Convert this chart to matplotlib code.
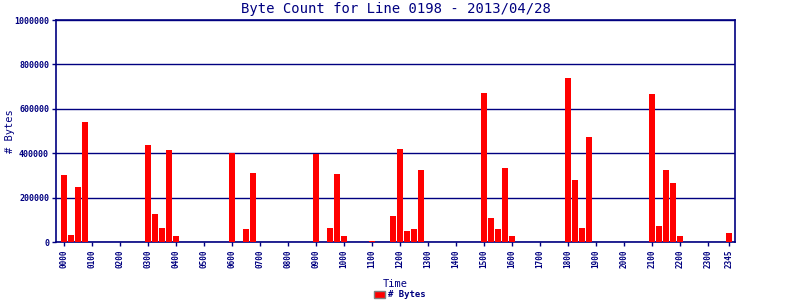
import matplotlib
matplotlib.use("Agg")
import matplotlib.pyplot as plt
from matplotlib.patches import Patch

# bytes per 15 minute slot (96 slots)
slot_bytes = [0] * 96
nonzero = {
    0: 302000, 1: 32000, 2: 248000, 3: 540000,
    12: 437000, 13: 126000, 14: 63000, 15: 414000, 16: 27000,
    24: 402000, 26: 59000, 27: 311000,
    36: 396000, 38: 63000, 39: 306000, 40: 27000,
    44: 5000, 47: 117000, 48: 419000, 49: 50000, 50: 59000, 51: 324000,
    60: 671000, 61: 108000, 62: 59000, 63: 333000, 64: 27000,
    72: 739000, 73: 279000, 74: 63000, 75: 473000,
    84: 667000, 85: 72000, 86: 324000, 87: 266000, 88: 27000,
    95: 41000,
}
for k, v in nonzero.items():
    slot_bytes[k] = v

tick_slots = list(range(0, 96, 4)) + [95]
tick_labels = ["%02d00" % h for h in range(24)] + ["2345"]
y_ticks = [0, 200000, 400000, 600000, 800000, 1000000]

navy = "#000080"
mono = "DejaVu Sans Mono"

fig = plt.figure(figsize=(8, 3), dpi=100)
ax = fig.add_axes([0.07, 0.193, 0.849, 0.74])

ax.bar(range(96), slot_bytes, width=0.85, color="#ff0000", zorder=3)

ax.set_xlim(-1.15, 95.85)
ax.set_ylim(0, 1000000)
ax.set_yticks(y_ticks)
ax.set_yticklabels([str(v) for v in y_ticks], fontsize=6, family=mono,
                   color=navy, fontweight="bold")
ax.set_xticks(tick_slots)
ax.set_xticklabels(tick_labels, rotation=90, fontsize=5.5, family=mono,
                   color=navy, fontweight="bold")
ax.tick_params(axis="both", colors=navy, length=3, width=1, pad=2)
ax.yaxis.grid(True, color=navy, linewidth=1, zorder=1)
for s in ax.spines.values():
    s.set_color(navy)
    s.set_linewidth(1.2)

ax.set_title("Byte Count for Line 0198 - 2013/04/28", family=mono,
             fontsize=10, color=navy, pad=5)
ax.set_xlabel("Time", family=mono, fontsize=7.5, color=navy)
ax.xaxis.set_label_coords(0.5, -0.165)
ax.set_ylabel("# Bytes", family=mono, fontsize=7.5, color=navy)
ax.yaxis.set_label_coords(-0.061, 0.5)

handle = Patch(facecolor="#ff0000", edgecolor="gray", label="# Bytes")
fig.legend(handles=[handle], loc="center", bbox_to_anchor=(0.5, 0.017),
           frameon=False, prop={"family": mono, "size": 6.5, "weight": "bold"},
           labelcolor=navy, handlelength=1.2, handleheight=0.8, handletextpad=0.3,
           borderpad=0)

plt.savefig("out.png", dpi=100)
